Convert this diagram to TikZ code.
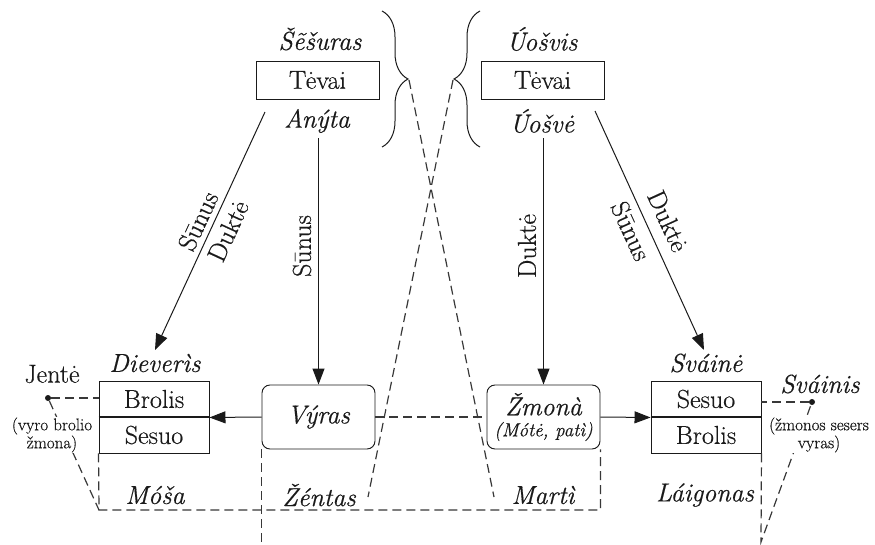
\documentclass[tikz,border=0pt]{standalone}
\usepackage{fontspec}
\setmainfont{Latin Modern Roman}[UprightFeatures={FakeBold=0.5},ItalicFeatures={FakeBold=0.5}]
\usetikzlibrary{arrows.meta,decorations.pathreplacing,calc}
\definecolor{ink}{HTML}{1A1A1A}
\definecolor{dgray}{HTML}{383838}
\begin{document}
\begin{tikzpicture}[x=1pt,y=-1pt,
  big/.style={font=\fontsize{26}{30}\selectfont, inner sep=0pt, text=ink},
  ibig/.style={font=\fontsize{26}{30}\selectfont\itshape, inner sep=0pt, text=ink},
  small/.style={font=\fontsize{17}{14.5}\selectfont, align=center, inner sep=1pt, fill=white, text=ink},
  box/.style={draw=ink, line width=0.95pt, inner sep=0pt},
  arr/.style={draw=ink, line width=1pt, -{Triangle[length=16pt,width=12pt]}},
  dsh/.style={draw=dgray, line width=1.2pt, dash pattern=on 9pt off 5pt},
  brc/.style={draw=ink, line width=1pt, decorate, decoration={brace, amplitude=26pt}},
  dotn/.style={circle, fill=ink, inner sep=0pt, minimum size=6pt}
]
\useasboundingbox (0,0) rectangle (875,544);

% parents
\node[big, box, minimum width=123pt, minimum height=38pt] (tevL) at (317.5,80) {Tėvai};
\node[ibig] (sesur) at (320,39) {Šẽšuras};
\node[ibig] (anyta) at (317,121) {Anýta};
\node[big, box, minimum width=123pt, minimum height=38pt] (tevR) at (542.5,80) {Tėvai};
\node[ibig] (uosvis) at (542,39) {Úošvis};
\node[ibig] (uosve) at (542,121) {Úošvė};

% braces
\coordinate (bLt) at (382,11);
\coordinate (bLb) at (382,147);
\coordinate (bRt) at (480,11);
\coordinate (bRb) at (480,147);
\draw[brc] (bLt) -- (bLb);
\draw[brc] (bRb) -- (bRt);
\coordinate (tipL) at (409,80);
\coordinate (tipR) at (453,80);
\coordinate (mend) at (494,497);
\coordinate (zend) at (368,497);

% couple
\node[ibig, box, rounded corners=8pt, minimum width=113pt, minimum height=64pt] (vyras) at (318.5,417) {Výras};
\node[box, rounded corners=8pt, minimum width=113pt, minimum height=64pt, align=center,
      font=\fontsize{19}{21}\selectfont\itshape, text=ink] (zmona) at (543.5,417)
      {{\fontsize{26}{21}\selectfont Žmonà}\\(Mótė, patì)};

% siblings boxes
\node[big, box, minimum width=110pt, minimum height=36pt] (lbro) at (154,399) {Brolis};
\node[big, box, minimum width=110pt, minimum height=36pt] (lses) at (154,435) {Sesuo};
\draw[ink, line width=2pt] (lbro.south west) -- (lbro.south east);
\node[big, box, minimum width=110pt, minimum height=36pt] (rses) at (706,399) {Sesuo};
\node[big, box, minimum width=110pt, minimum height=36pt] (rbro) at (706,435) {Brolis};
\draw[ink, line width=2pt] (rses.south west) -- (rses.south east);

\node[ibig] (diev) at (155,363) {Dieverìs};
\node[ibig] (svaine) at (706,363) {Sváinė};
\node[big] (jente) at (52,374) {Jentė};
\node[ibig] (svainis) at (820,384) {Sváinis};
\node[dotn] (jdot) at (48,398) {};
\node[dotn] (sdot) at (812,402) {};

% bottom labels
\node[ibig] (mosa) at (155,495) {Móša};
\node[ibig] (zentas) at (319,495) {Žéntas};
\node[ibig] (marti) at (543,495) {Martì};
\node[ibig] (laigonas) at (705,495) {Láigonas};

% coordinates
\coordinate (ldst) at (265,112);
\coordinate (lden) at (155,350);
\coordinate (rdst) at (595,111);
\coordinate (rden) at (704,350);
\coordinate (lvst) at (318.5,138);
\coordinate (rvst) at (543.5,138);
\coordinate (bl) at (99,510);
\coordinate (vbot) at (262,544);
\coordinate (rbot) at (761,542);

% dashed connectors
\draw[dsh] (tipL) -- (mend);
\draw[dsh] (tipR) -- (zend);
\draw[dsh] (vyras.east) -- (zmona.west);
\draw[dsh] (jdot) -- (jdot -| lbro.west);
\draw[dsh] (jdot) -- (bl);
\draw[dsh] (lses.south west) -- (bl) -- (bl -| zmona.east) -- (zmona.south east);
\draw[dsh] (vyras.south west) -- (vyras.south west |- vbot);
\draw[dsh] (sdot) -- (sdot -| rses.east);
\draw[dsh] (rbro.south east) -- (rbot) -- (sdot);

% notes (cover dashed lines)
\node[small] (jnote) at (52,435) {(vyro brolio\\žmona)};
\node[small] (snote) at (819,435) {(žmonos sesers\\vyras)};

% solid arrows
\draw[arr] (ldst) -- (lden);
\draw[arr] (rdst) -- (rden);
\draw[arr] (lvst) -- (vyras.north);
\draw[arr] (rvst) -- (zmona.north);
\draw[arr] (vyras.west) -- (lbro.south east);
\draw[arr] (zmona.east) -- (rses.south west);

% arrow labels
\node[big, rotate=65.2] (l1) at (198,221) {Sūnus};
\node[big, rotate=65.2] (l2) at (228,231) {Duktė};
\node[big, rotate=90] (l3) at (302,246) {Sūnus};
\node[big, rotate=90] (l4) at (527,246) {Duktė};
\node[big, rotate=-65.5] (l5) at (668,221) {Duktė};
\node[big, rotate=-65.5] (l6) at (631,231) {Sūnus};
\end{tikzpicture}
\end{document}
